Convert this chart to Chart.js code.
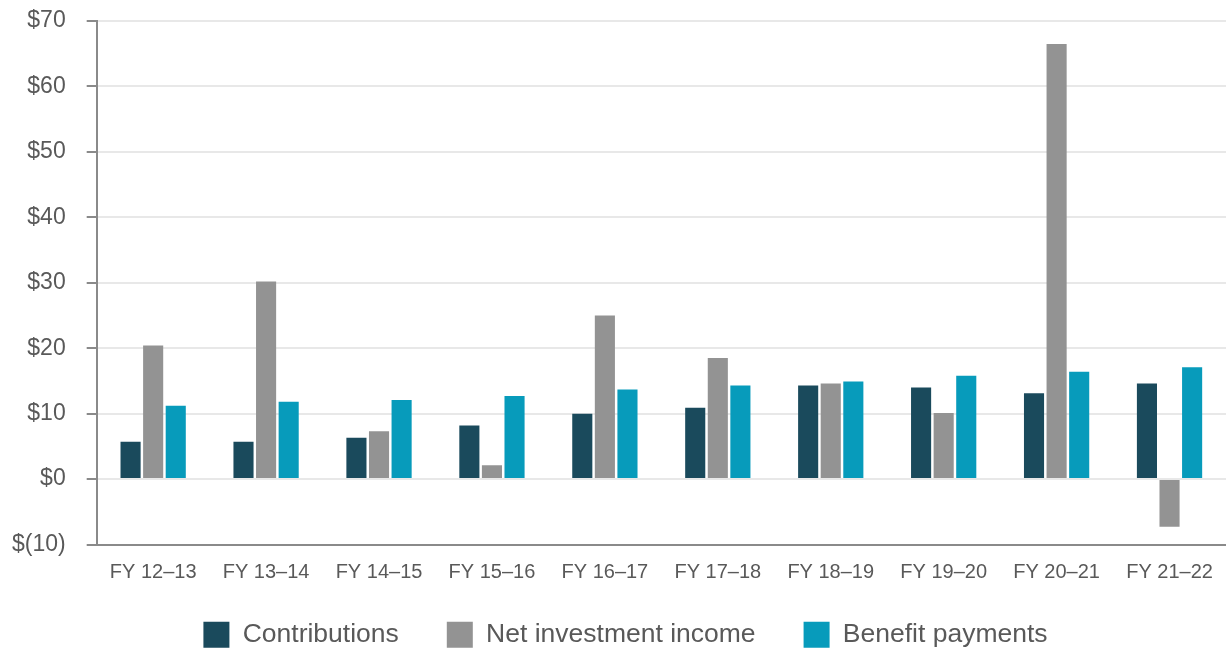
<!DOCTYPE html>
<html>
<head>
<meta charset="utf-8">
<script src="https://cdn.jsdelivr.net/npm/chart.js@4"></script>
<style>
  html,body{margin:0;padding:0;background:#fff;}
  #wrap{width:1226px;height:648px;position:relative;}
</style>
</head>
<body>
<div id="wrap"><canvas id="ch"></canvas></div>
<script>
// categories + series (in $ millions)
const years = ['FY 12–13','FY 13–14','FY 14–15','FY 15–16','FY 16–17','FY 17–18','FY 18–19','FY 19–20','FY 20–21','FY 21–22'];
const contributions = [5.7, 5.7, 6.3, 8.2, 10.0, 10.9, 14.3, 14.0, 13.1, 14.6];
const netInvestment = [20.4, 30.2, 7.3, 2.1, 25.0, 18.5, 14.6, 10.1, 66.5, -7.3];
const benefitPayments = [11.2, 11.8, 12.1, 12.7, 13.7, 14.3, 14.9, 15.8, 16.4, 17.1];

const FONT = 'Liberation Sans, Arial, sans-serif';
const TXT = '#595959';
const money = v => v < 0 ? '$(' + (-v) + ')' : '$' + v;

function ds(label, data, color){
  return {label, data, backgroundColor:color, borderWidth:0,
    categoryPercentage:0.6, barPercentage:0.89};
}

// legend sits a bit closer to the tick labels (and a bit right) vs chart.js default
const legendShift = {
  id:'legendShift',
  afterLayout(chart){
    const lg = chart.legend;
    if(!lg) return;
    lg.top -= 11; lg.bottom -= 11;
    lg.left += 17; lg.right += 17;
  }
};

new Chart(document.getElementById('ch'), {
  type:'bar',
  data:{
    labels:years,
    datasets:[
      ds('Contributions', contributions, '#1a4a5c'),
      ds('Net investment income', netInvestment, '#939393'),
      ds('Benefit payments', benefitPayments, '#079bbb'),
    ]
  },
  plugins:[legendShift],
  options:{
    responsive:true, maintainAspectRatio:false, animation:false,
    layout:{padding:{top:21, right:0, bottom:-21, left:-9}},
    plugins:{
      tooltip:{enabled:false},
      legend:{position:'bottom',
        labels:{font:{family:FONT,size:26.5}, color:TXT, boxWidth:26, boxHeight:26, padding:48}}
    },
    scales:{
      x:{
        grid:{display:false, drawTicks:false},
        border:{color:'#8a8a8a', width:2},
        ticks:{font:{family:FONT,size:20}, color:TXT, padding:16, maxRotation:0},
        afterFit:s=>{ s.height = 40; s.paddingLeft = 0; s.paddingRight = 0; }
      },
      y:{
        min:-10, max:70,
        grid:{color:'#e8e8e8', lineWidth:2, tickColor:'#8a8a8a', tickLength:10},
        border:{color:'#8a8a8a', width:2},
        ticks:{stepSize:10, font:{family:FONT,size:23}, color:TXT, padding:21, callback:money},
        afterFit:s=>{ s.paddingTop = 0; s.paddingBottom = 0; }
      }
    }
  }
});
</script>
</body>
</html>
